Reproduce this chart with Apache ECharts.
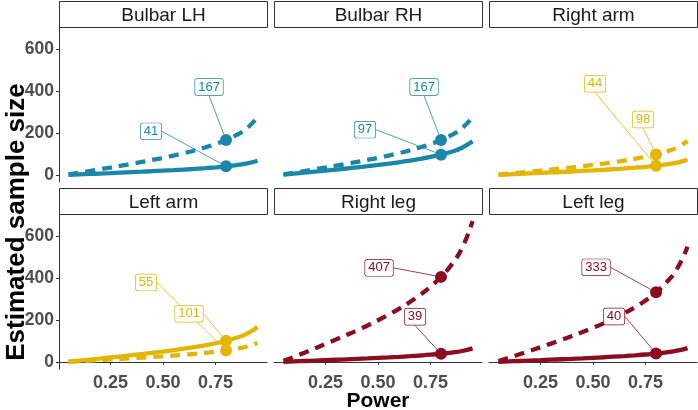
<!DOCTYPE html>
<html><head><meta charset="utf-8">
<script src="https://cdn.jsdelivr.net/npm/echarts@6/dist/echarts.min.js"></script>
<style>html,body{margin:0;padding:0;background:#fff}#c{width:698px;height:410px}</style>
</head><body><div id="c"></div>
<script>
// ---- data ----
const power = [0.05,0.10,0.15,0.20,0.25,0.30,0.35,0.40,0.45,0.50,0.55,0.60,0.65,0.70,0.75,0.80,0.85,0.90,0.95];
const panels = ["Bulbar LH","Bulbar RH","Right arm","Left arm","Right leg","Left leg"];

const solidBulbarLH  = [0.5,2.4,4.5,6.5,8.6,10.8,13.0,15.2,17.6,20.1,22.7,25.6,28.7,32.2,36.3,41,46.9,54.9,67.9];
const dashedBulbarLH = [2.1,9.8,18.2,26.6,35.2,43.9,52.8,62.0,71.6,81.7,92.6,104.2,117.0,131.3,147.7,167,191.0,223.6,276.5];
const solidBulbarRH  = [1.2,5.7,10.5,15.5,20.4,25.5,30.6,36.0,41.6,47.5,53.8,60.5,68.0,76.3,85.8,97,111.0,129.9,160.6];
const dashedBulbarRH = [2.1,9.8,18.2,26.6,35.2,43.9,52.8,62.0,71.6,81.7,92.6,104.2,117.0,131.3,147.7,167,191.0,223.6,276.5];
const solidRightArm  = [0.6,2.6,4.8,7.0,9.3,11.6,13.9,16.3,18.9,21.5,24.4,27.5,30.8,34.6,38.9,44,50.3,58.9,72.9];
const dashedRightArm = [1.2,5.7,10.7,15.6,20.6,25.7,31.0,36.4,42.0,48.0,54.3,61.2,68.7,77.1,86.7,98,112.1,131.2,162.3];
const solidLeftArm   = [1.3,5.9,11.0,16.1,21.3,26.5,31.9,37.5,43.3,49.4,56.0,63.0,70.8,79.4,89.3,101,115.5,135.2,167.2];
const dashedLeftArm  = [0.7,3.2,6.0,8.8,11.6,14.4,17.4,20.4,23.6,26.9,30.5,34.3,38.5,43.3,48.6,55,62.9,73.6,91.1];
const solidRightLeg  = [0.5,2.3,4.2,6.2,8.2,10.2,12.3,14.5,16.7,19.1,21.6,24.3,27.3,30.7,34.5,39,44.6,52.2,64.6];
const dashedRightLeg = [5.1,23.9,44.2,64.9,85.7,106.9,128.6,151.0,174.5,199.2,225.6,254.0,285.2,320.1,359.9,407,465.6,544.9,673.9];
const solidLeftLeg   = [0.5,2.3,4.3,6.4,8.4,10.5,12.6,14.8,17.1,19.6,22.2,25.0,28.0,31.5,35.4,40,45.8,53.6,66.2];
const dashedLeftLeg  = [4.2,19.5,36.2,53.1,70.1,87.4,105.2,123.6,142.8,163.0,184.5,207.8,233.4,261.9,294.4,333,380.9,445.8,551.4];

const pointPower  = 0.8;
const solidAt80   = [41,97,44,101,39,40];
const dashedAt80  = [167,167,98,55,407,333];
const xTicks = [0.25,0.5,0.75];
const yTicks = [0,200,400,600];

// ---- styles ----
const solids  = [solidBulbarLH, solidBulbarRH, solidRightArm, solidLeftArm, solidRightLeg, solidLeftLeg];
const dashes  = [dashedBulbarLH, dashedBulbarRH, dashedRightArm, dashedLeftArm, dashedRightLeg, dashedLeftLeg];
const BLUE = '#1B87A8', GOLD = '#E3B505', RED = '#8C0C22';
const colors = [BLUE, BLUE, GOLD, GOLD, RED, RED];
// label offsets [solid, dashed] relative to the point, in px
const labelOffsets = [
  [[-75,-35],[-17,-53]],
  [[-76,-25],[-17,-53]],
  [[-61,-82],[-13,-35]],
  [[-37,-27],[-80,-68]],
  [[-26,-37],[-62,-9]],
  [[-42,-37],[-60,-25]]
];
const FONT = '"Liberation Sans", Arial, sans-serif';
const lefts = [59, 274, 489], tops = [27, 214], W = 208, H = 155;

const grid = [], xAxis = [], yAxis = [], series = [], graphic = [];
for (let i = 0; i < 6; i++) {
  const col = i % 3, row = Math.floor(i / 3);
  grid.push({left: lefts[col], top: tops[row], width: W, height: H});
  xAxis.push({
    type: 'value', gridIndex: i, min: 0.005, max: 0.995,
    splitLine: {show: false},
    axisLine: {show: row === 1, lineStyle: {color: '#333', width: 1}},
    axisTick: {show: row === 1, length: 3, customValues: xTicks, lineStyle: {color: '#333'}},
    axisLabel: {show: row === 1, customValues: xTicks, margin: 5, color: '#4D4D4D', fontWeight: 'bold', fontSize: 18, fontFamily: FONT,
      formatter: v => v.toFixed(2)}
  });
  yAxis.push({
    type: 'value', gridIndex: i, min: -34, max: 708,
    splitLine: {show: false},
    axisLine: {show: col === 0, lineStyle: {color: '#333', width: 1}},
    axisTick: {show: col === 0, length: 3, customValues: yTicks, lineStyle: {color: '#333'}},
    axisLabel: {show: col === 0, customValues: yTicks, margin: 5, color: '#4D4D4D', fontWeight: 'bold', fontSize: 17.5, fontFamily: FONT}
  });
  const c = colors[i];
  series.push({
    type: 'line', xAxisIndex: i, yAxisIndex: i, showSymbol: false, smooth: true, z: 2,
    data: power.map((p, k) => [p, solids[i][k]]),
    lineStyle: {color: c, width: 4.3}, itemStyle: {color: c}
  });
  series.push({
    type: 'line', xAxisIndex: i, yAxisIndex: i, showSymbol: false, smooth: true, z: 2,
    data: power.map((p, k) => [p, dashes[i][k]]),
    lineStyle: {color: c, width: 4.3, type: [10, 7]}, itemStyle: {color: c}
  });
  const offs = labelOffsets[i];
  series.push({
    type: 'scatter', xAxisIndex: i, yAxisIndex: i, z: 5, symbolSize: 12,
    data: [[pointPower, solidAt80[i]], [pointPower, dashedAt80[i]]],
    itemStyle: {color: c, opacity: 1},
    label: {
      show: true, position: 'inside', formatter: p => String(p.value[1]),
      color: c, fontSize: 13, fontFamily: FONT, backgroundColor: '#fff',
      borderColor: c, borderWidth: 0.7, borderRadius: 2, padding: [2, 3, 1, 3]
    },
    labelLine: {show: true, lineStyle: {color: c, width: 0.8}},
    labelLayout: params => ({dx: offs[params.dataIndex][0], dy: offs[params.dataIndex][1]}),
    emphasis: {disabled: true}
  });
  // strip
  const sx = lefts[col], sy = row === 0 ? 1 : 188, sh = 26;
  graphic.push({
    type: 'rect', shape: {x: sx + 0.5, y: sy + 0.5, width: W, height: sh},
    style: {fill: '#fff', stroke: '#333', lineWidth: 1}, z: 10
  });
  graphic.push({
    type: 'text', x: sx + W / 2 + 0.5, y: sy + sh / 2 + 1.5, z: 11,
    style: {text: panels[i], fill: '#1A1A1A', fontSize: 19, fontFamily: FONT, textAlign: 'center', textVerticalAlign: 'middle'}
  });
}
graphic.push({
  type: 'text', x: 17, y: 222, rotation: Math.PI / 2, z: 11,
  style: {text: 'Estimated sample size', fill: '#000', fontSize: 26, fontWeight: 'bold', fontFamily: FONT, textAlign: 'center', textVerticalAlign: 'middle'}
});
graphic.push({
  type: 'text', x: 378, y: 401, z: 11,
  style: {text: 'Power', fill: '#000', fontSize: 21, fontWeight: 'bold', fontFamily: FONT, textAlign: 'center', textVerticalAlign: 'middle'}
});

const chart = echarts.init(document.getElementById('c'), null, {renderer: 'canvas'});
chart.setOption({animation: false, grid, xAxis, yAxis, series, graphic});
</script></body></html>
